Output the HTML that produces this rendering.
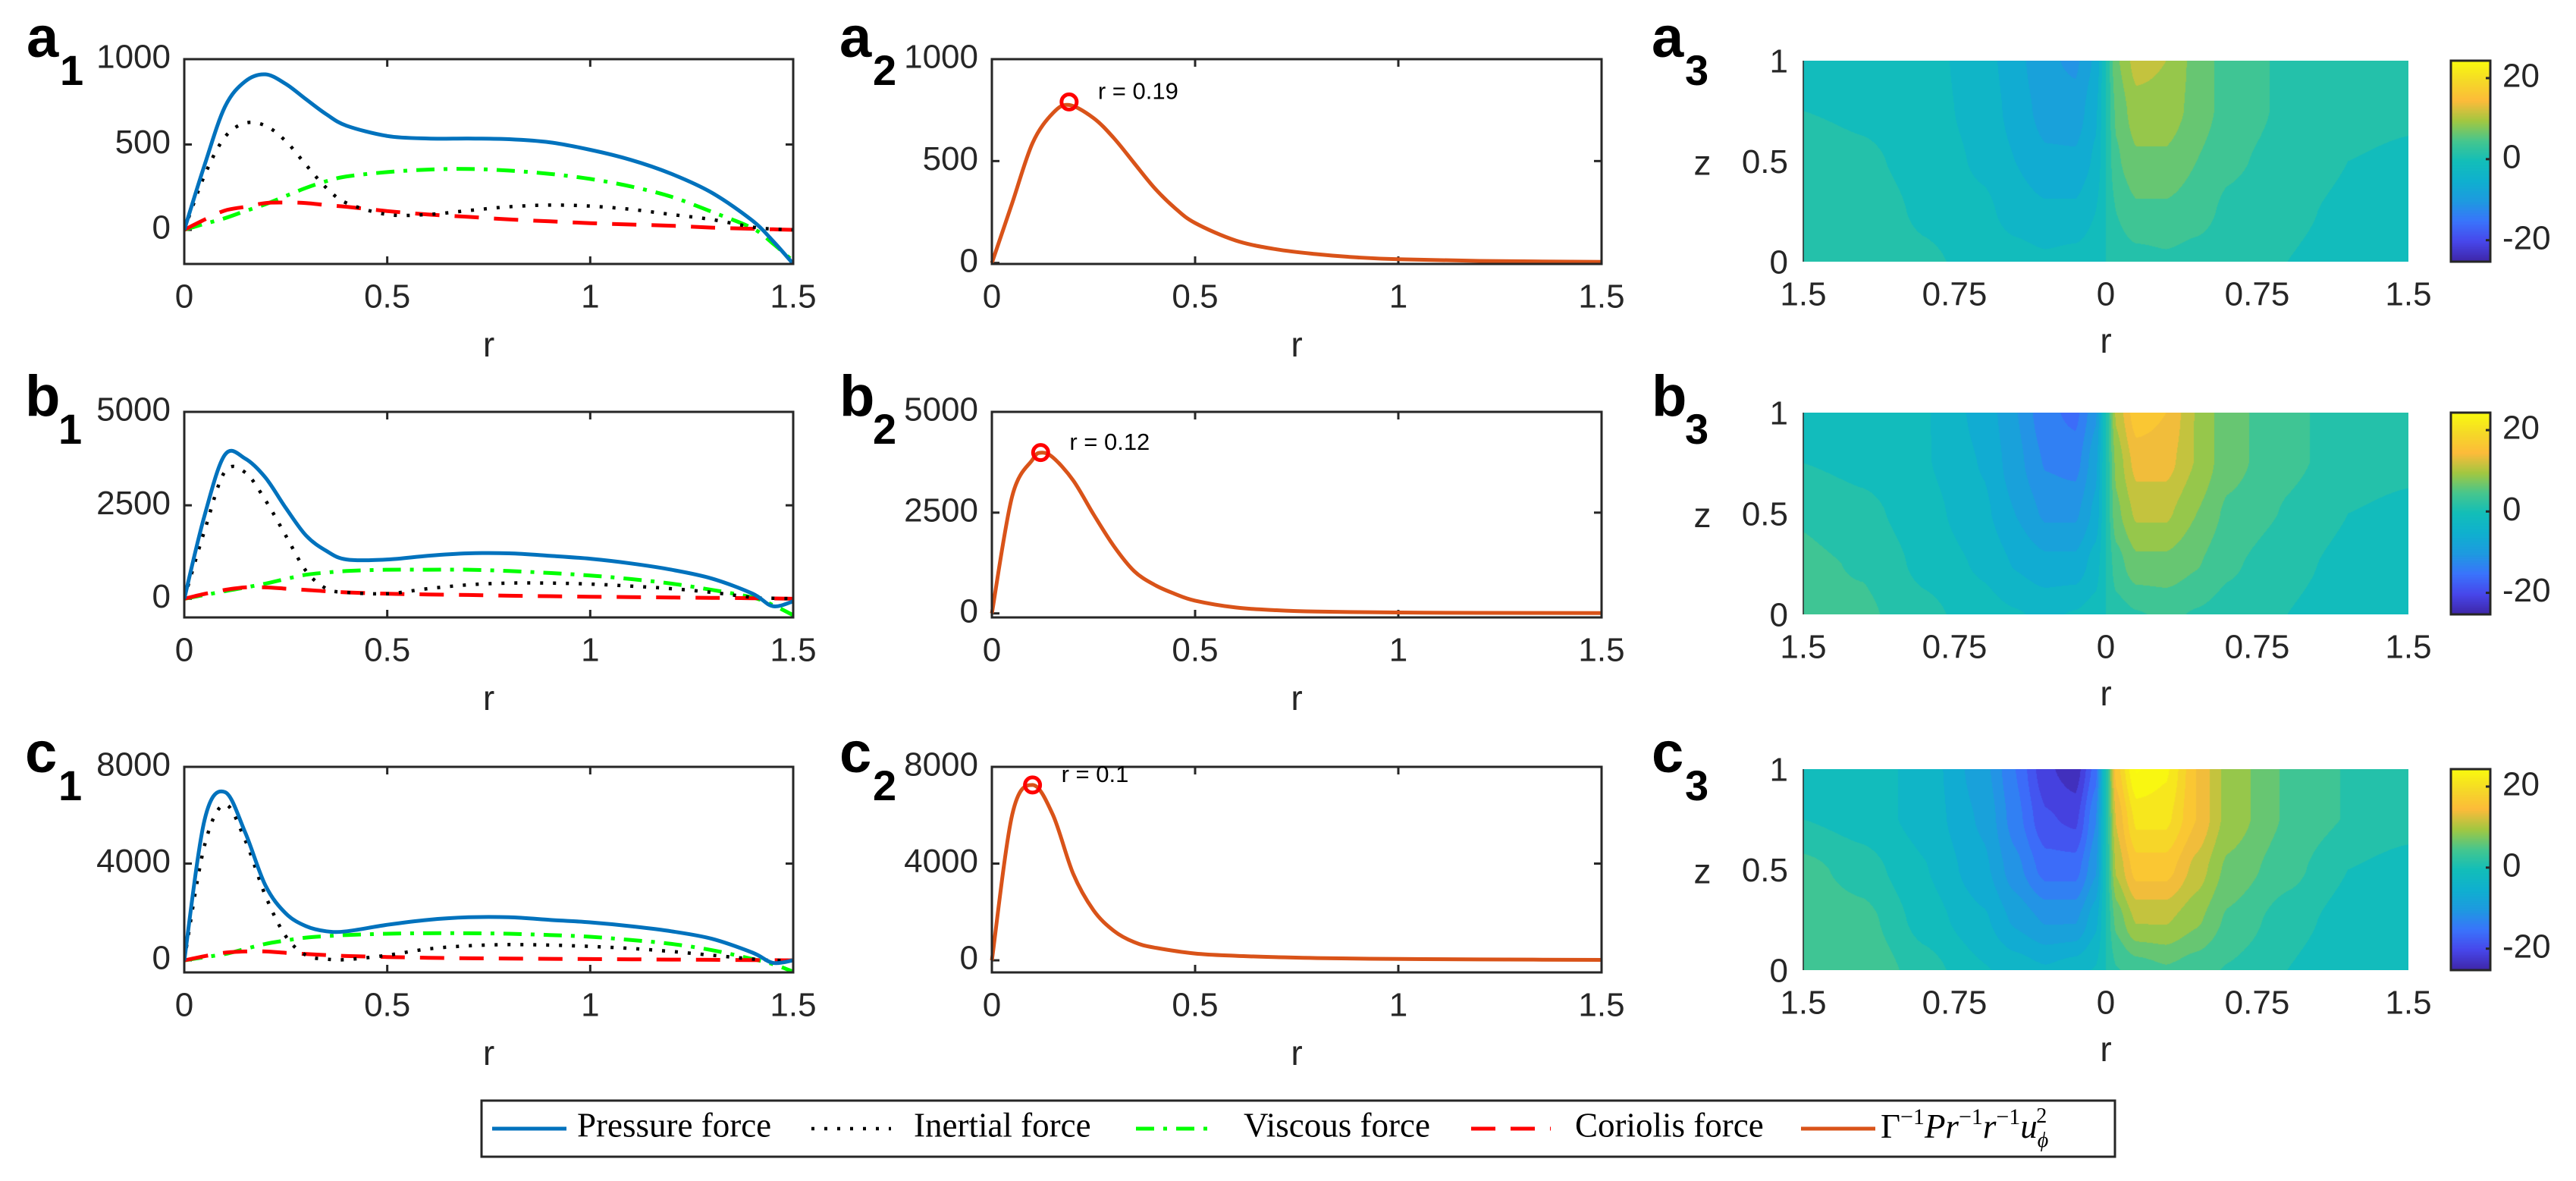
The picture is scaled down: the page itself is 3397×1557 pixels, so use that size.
<!DOCTYPE html>
<html><head><meta charset="utf-8">
<style>
html,body{margin:0;padding:0;background:#fff;}
#wrap{position:relative;width:3397px;height:1557px;overflow:hidden;background:#fff;}
canvas{position:absolute;}
svg{position:absolute;left:0;top:0;}
text{font-family:"Liberation Sans",sans-serif;fill:#262626;}
</style></head>
<body>
<div id="wrap">
<canvas id="h0"></canvas>
<canvas id="h1"></canvas>
<canvas id="h2"></canvas>
<canvas id="cb0"></canvas>
<canvas id="cb1"></canvas>
<canvas id="cb2"></canvas>
<svg id="svg" width="3397" height="1557" xmlns="http://www.w3.org/2000/svg"></svg>
</div>
<script>
// ---------- data ----------
const rForce = [0,0.05,0.1,0.15,0.2,0.25,0.3,0.35,0.4,0.5,0.6,0.7,0.8,0.9,1.0,1.1,1.2,1.3,1.4,1.45,1.5];
const a1Pressure = [0,380,720,870,911,855,765,677,610,550,535,535,531,513,469,410,328,217,53,-65,-199];
const a1Inertial = [0,320,543,625,610,520,380,246,157,90,90,113,135,145,139,120,90,60,16,5,0];
const a1Viscous  = [0,35,68,110,150,198,246,285,313,338,353,357,347,328,298,254,194,105,9,-80,-184];
const a1Coriolis = [0,60,113,135,157,160,157,145,135,110,90,76,61,50,39,31,24,13,6,3,0];
const b1Pressure = [0,2230,3850,3750,3240,2430,1690,1280,1050,1050,1150,1215,1215,1150,1070,946,777,540,135,-200,-70];
const b1Inertial = [0,1825,3400,3380,2635,1690,743,270,169,135,270,372,419,419,392,338,270,169,34,14,0];
const b1Viscous  = [0,100,203,300,405,530,642,700,743,777,777,777,743,690,622,527,405,236,34,-170,-440];
const b1Coriolis = [0,130,236,304,304,270,236,200,169,135,115,100,81,68,54,44,34,24,14,7,0];
const c1Pressure = [0,5810,6960,5290,3090,1940,1410,1200,1200,1470,1675,1780,1780,1675,1570,1410,1200,890,314,-105,0];
const c1Inertial = [0,4760,6440,4970,2670,995,210,52,31,210,470,600,650,630,575,490,366,210,52,0,0];
const c1Viscous  = [0,130,260,470,680,820,940,1000,1045,1100,1120,1120,1100,1045,975,840,680,420,52,-157,-470];
const c1Coriolis = [0,170,314,366,366,310,260,215,178,136,105,84,73,62,52,42,31,20,10,5,0];

const a2R = [0,0.05,0.1,0.15,0.19,0.25,0.3,0.35,0.4,0.45,0.5,0.6,0.7,0.8,0.9,1.0,1.2,1.5];
const a2Val = [0,294,588,735,775,711,613,490,368,270,196,110,67,43,27,18,10,5];
const b2R = [0,0.05,0.1,0.12,0.15,0.2,0.25,0.3,0.35,0.4,0.45,0.5,0.6,0.7,0.8,1.0,1.2,1.5];
const b2Val = [0,2910,3815,3985,3870,3300,2460,1670,1050,710,485,316,147,79,45,22,12,10];
const c2R = [0,0.05,0.1,0.15,0.2,0.25,0.3,0.35,0.4,0.5,0.6,0.7,0.8,1.0,1.2,1.5];
const c2Val = [0,6020,7250,6020,3580,2070,1220,750,527,282,188,132,94,56,35,19];
const peakR = [0.19,0.12,0.1];
const peakVal = [790,3990,7250];
const peakLabels = ["r = 0.19","r = 0.12","r = 0.1"];

const yTicksRow = [[0,500,1000],[0,2500,5000],[0,4000,8000]];
const xTicks = [0,0.5,1,1.5];
const xTickLabels = ["0","0.5","1","1.5"];
const heatXTicks = [-1.5,-0.75,0,0.75,1.5];
const heatXTickLabels = ["1.5","0.75","0","0.75","1.5"];
const heatZTicks = [0,0.5,1];
const heatZTickLabels = ["0","0.5","1"];
const cbTicks = [-20,0,20];
const cbTickLabels = ["-20","0","20"];

const heatR = [-1.5,-1.2,-0.9,-0.6,-0.45,-0.3,-0.15,-0.05,0,0.05,0.15,0.3,0.45,0.6,0.9,1.2,1.5];
const heatZ = [1,0.75,0.5,0.25,0];
const heatBase = [
 [0,-0.5,-1.5,-4,-6.5,-9.5,-10.5,-7,0,7,11,10,6.5,4,2,1,0.5],
 [0,-0.5,-1.5,-3.5,-6,-8.5,-9,-5.5,0,5.5,9,9,6.5,4,2,1,0.5],
 [1.5,0.5,-1,-3,-5,-7,-7,-4.5,0,4.5,7,7,5,3,1.5,0,-0.5],
 [2,1.5,-0.5,-2,-3.5,-4.5,-4.5,-2.5,0,2.5,4.5,4.5,3.5,2,0.5,-0.5,-1],
 [2,2,0.5,-1,-1.5,-2,-1.5,-1,0,1,1.5,2,1.5,1,0,-1,-1]
];
const heatAmp = [1,1.5,2.3];

// ---------- layout ----------
const colL={x0:243,x1:1046}, colM={x0:1308,x1:2112}, colH={x0:2378,x1:3176}, colCB={x0:3232,x1:3284};
const rows=[{y0:78,y1:348},{y0:543,y1:814},{y0:1011,y1:1282}];
const heatRows=[{y0:80,y1:345},{y0:544,y1:810},{y0:1014,y1:1279}];
const leftRange=[[-200,1000],[-500,5000],[-500,8000]];
const midRange=[[-5,1000],[-100,5000],[-500,8000]];
const clim=[-25.3,24.3];
const rowLetters=["a","b","c"];
const labelBase=[[75,112],[548,585],[1018,1055]];

const NS="http://www.w3.org/2000/svg";
const svg=document.getElementById('svg');
function mk(tag,attrs,parent){const e=document.createElementNS(NS,tag);for(const k in attrs)e.setAttribute(k,attrs[k]);(parent||svg).appendChild(e);return e;}
function lin(d0,d1,p0,p1){return v=>p0+(v-d0)/(d1-d0)*(p1-p0);}
function smoothPath(pts){
  let d="M"+pts[0][0].toFixed(1)+","+pts[0][1].toFixed(1);
  for(let i=0;i<pts.length-1;i++){
    const p0=pts[Math.max(0,i-1)],p1=pts[i],p2=pts[i+1],p3=pts[Math.min(pts.length-1,i+2)];
    const c1=[p1[0]+(p2[0]-p0[0])/6,p1[1]+(p2[1]-p0[1])/6];
    const c2=[p2[0]-(p3[0]-p1[0])/6,p2[1]-(p3[1]-p1[1])/6];
    d+=" C"+c1[0].toFixed(1)+","+c1[1].toFixed(1)+" "+c2[0].toFixed(1)+","+c2[1].toFixed(1)+" "+p2[0].toFixed(1)+","+p2[1].toFixed(1);
  }
  return d;
}
function axesBox(col,row,yr,yt,name,ri){
  const g=mk('g',{});
  
  
  const sx=lin(0,1.5,col.x0,col.x1), sy=lin(yr[0],yr[1],row.y1,row.y0);
  xTicks.forEach((t,i)=>{
    const x=sx(t);
    const l1=mk('line',{x1:x,x2:x,y1:row.y1,y2:row.y1-10,stroke:'#262626','stroke-width':3},g);
    
    
    mk('line',{x1:x,x2:x,y1:row.y0,y2:row.y0+10,stroke:'#262626','stroke-width':3},g);
    const tx=mk('text',{x:x,y:row.y1+46,'font-size':44,'text-anchor':'middle','dominant-baseline':'middle'},g);
    tx.textContent=xTickLabels[i];
    
    
  });
  yt.forEach(t=>{
    const y=sy(t);
    mk('line',{x1:col.x0,x2:col.x0+10,y1:y,y2:y,stroke:'#262626','stroke-width':3},g);
    mk('line',{x1:col.x1,x2:col.x1-10,y1:y,y2:y,stroke:'#262626','stroke-width':3},g);
    const tx=mk('text',{x:col.x0-18,y:y,'font-size':44,'text-anchor':'end','dominant-baseline':'middle'},g);
    tx.textContent=String(t);
    
    
  });
  const xl=mk('text',{x:(col.x0+col.x1)/2,y:row.y1+110,'font-size':46,'text-anchor':'middle','dominant-baseline':'middle'},g);
  xl.textContent='r';
  
  
  return {g,sx,sy};
}
function frame(col,row,g){
  const r=mk('rect',{x:col.x0,y:row.y0,width:col.x1-col.x0,height:row.y1-row.y0,fill:'none',stroke:'#262626','stroke-width':3},g);
  
  
}
function panelLabel(x,ri,sub){
  const t=mk('text',{x:x,y:labelBase[ri][0],'font-size':76,'font-weight':'bold',fill:'#000'});
  
  
  t.style.fill='#000';
  t.textContent=rowLetters[ri];
  const s=mk('text',{x:x+44,y:labelBase[ri][1],'font-size':56,'font-weight':'bold'});
  
  
  s.style.fill='#000';
  s.textContent=sub;
}
const defs=mk('defs',{});
function clipFor(id,col,row){const c=mk('clipPath',{id:id},defs);mk('rect',{x:col.x0,y:row.y0-4,width:col.x1-col.x0,height:row.y1-row.y0+8},c);}

const styles={
  pressure:{stroke:'#0072BD',dash:null,w:5},
  inertial:{stroke:'#000',dash:'4 13',w:4.5},
  viscous:{stroke:'#00FF00',dash:'24 12 5 12',w:5},
  coriolis:{stroke:'#FF0000',dash:'32 20',w:5}
};
const leftSeries=[
  {pressure:a1Pressure,inertial:a1Inertial,viscous:a1Viscous,coriolis:a1Coriolis},
  {pressure:b1Pressure,inertial:b1Inertial,viscous:b1Viscous,coriolis:b1Coriolis},
  {pressure:c1Pressure,inertial:c1Inertial,viscous:c1Viscous,coriolis:c1Coriolis}
];
const midR=[a2R,b2R,c2R], midV=[a2Val,b2Val,c2Val];

for(let ri=0;ri<3;ri++){
  const L=axesBox(colL,rows[ri],leftRange[ri],yTicksRow[ri],'force-axes-'+rowLetters[ri]+'1',ri);
  clipFor('cl'+ri,colL,rows[ri]);
  ['viscous','coriolis','inertial','pressure'].forEach(k=>{
    const vals=leftSeries[ri][k];
    const pts=rForce.map((r,i)=>[L.sx(r),L.sy(vals[i])]);
    const st=styles[k];
    const p=mk('path',{d:smoothPath(pts),fill:'none',stroke:st.stroke,'stroke-width':st.w,'clip-path':'url(#cl'+ri+')','stroke-linejoin':'round'},L.g);
    if(st.dash)p.setAttribute('stroke-dasharray',st.dash);
    
    
  });
  frame(colL,rows[ri],L.g);
  panelLabel(ri===0?35:33,ri,'1');
  const M=axesBox(colM,rows[ri],midRange[ri],yTicksRow[ri],'centrifugal-axes-'+rowLetters[ri]+'2',ri);
  const pts=midR[ri].map((r,i)=>[M.sx(r),M.sy(midV[ri][i])]);
  const p=mk('path',{d:smoothPath(pts),fill:'none',stroke:'#D95319','stroke-width':5,'stroke-linejoin':'round'},M.g);
  
  
  frame(colM,rows[ri],M.g);
  const cx=M.sx(peakR[ri]), cy=M.sy(peakVal[ri]);
  const c=mk('circle',{cx:cx,cy:cy,r:10,fill:'none',stroke:'#FF0000','stroke-width':5},M.g);
  
  
  const at=mk('text',{x:cx+38,y:cy-12,'font-size':31,'dominant-baseline':'middle'},M.g);
  at.style.fill='#000';
  at.textContent=peakLabels[ri];
  
  
  panelLabel(1107,ri,'2');
  const hr=heatRows[ri];
  const hg=mk('g',{});
  
  
  const hx=lin(-1.5,1.5,colH.x0,colH.x1), hz=lin(0,1,hr.y1,hr.y0);
  heatXTicks.forEach((t,i)=>{
    const tx=mk('text',{x:hx(t),y:hr.y1+46,'font-size':44,'text-anchor':'middle','dominant-baseline':'middle'},hg);
    tx.textContent=heatXTickLabels[i];
    
    
  });
  heatZTicks.forEach((t,i)=>{
    const tx=mk('text',{x:colH.x0-20,y:hz(t)+4,'font-size':44,'text-anchor':'end','dominant-baseline':'middle'},hg);
    tx.textContent=heatZTickLabels[i];
    
    
  });
  mk('line',{x1:colH.x0,x2:colH.x0,y1:hr.y0,y2:hr.y1,stroke:'#262626','stroke-width':1.5},hg);
  const zl=mk('text',{x:2245,y:(hr.y0+hr.y1)/2+6,'font-size':46,'text-anchor':'middle','dominant-baseline':'middle'},hg);
  zl.textContent='z';
  
  
  const rl=mk('text',{x:(colH.x0+colH.x1)/2,y:hr.y1+108,'font-size':46,'text-anchor':'middle','dominant-baseline':'middle'},hg);
  rl.textContent='r';
  
  
  const cs=lin(clim[0],clim[1],hr.y1,hr.y0);
  const cbf=mk('rect',{x:colCB.x0,y:hr.y0,width:colCB.x1-colCB.x0,height:hr.y1-hr.y0,fill:'none',stroke:'#262626','stroke-width':3},hg);
  
  
  cbTicks.forEach((t,i)=>{
    const y=cs(t);
    mk('line',{x1:colCB.x1,x2:colCB.x1-6,y1:y,y2:y,stroke:'#262626','stroke-width':3},hg);
    const tx=mk('text',{x:colCB.x1+16,y:y,'font-size':44,'dominant-baseline':'middle'},hg);
    tx.textContent=cbTickLabels[i];
    
    
  });
  panelLabel(2178,ri,'3');
}

// ---------- parula ----------
const parStops=[[0,[62,38,168]],[0.1,[71,71,235]],[0.2,[58,116,252]],[0.3,[30,154,224]],[0.4,[15,176,207]],[0.5,[18,190,185]],[0.6,[70,198,142]],[0.7,[162,199,65]],[0.8,[253,187,58]],[0.9,[245,218,39]],[1,[249,251,14]]];
function parula(t){
  t=Math.max(0,Math.min(1,t));
  for(let i=0;i<parStops.length-1;i++){
    const a=parStops[i],b=parStops[i+1];
    if(t<=b[0]){const f=(t-a[0])/(b[0]-a[0]);return a[1].map((v,k)=>Math.round(v+(b[1][k]-v)*f));}
  }
  return parStops[parStops.length-1][1];
}
function interp1(arr,v){
  for(let i=0;i<arr.length-1;i++){
    const a=arr[i],b=arr[i+1];
    if((v>=Math.min(a,b))&&(v<=Math.max(a,b))){let f=(v-a)/(b-a);f=f*f*(3-2*f)*0.5+f*0.5;return [i,f];}
  }
  return [arr.length-2,1];
}
for(let ri=0;ri<3;ri++){
  const hr=heatRows[ri];
  const W=colH.x1-colH.x0, H=hr.y1-hr.y0;
  const cv=document.getElementById('h'+ri);
  cv.width=W;cv.height=H;cv.style.left=colH.x0+'px';cv.style.top=hr.y0+'px';
  const ctx=cv.getContext('2d');
  const img=ctx.createImageData(W,H);
  const colIdx=[];
  for(let x=0;x<W;x++)colIdx.push(interp1(heatR,-1.5+3*(x+0.5)/W));
  for(let y=0;y<H;y++){
    const z=1-(y+0.5)/H;
    const [j,fz]=interp1(heatZ,z);
    for(let x=0;x<W;x++){
      const [i,fx]=colIdx[x];
      const v00=heatBase[j][i],v01=heatBase[j][i+1],v10=heatBase[j+1][i],v11=heatBase[j+1][i+1];
      let v=(v00*(1-fx)+v01*fx)*(1-fz)+(v10*(1-fx)+v11*fx)*fz;
      v*=heatAmp[ri];
      const q=(Math.floor(v/2.5)+0.5)*2.5;
      const c=parula((q-clim[0])/(clim[1]-clim[0]));
      const o=(y*W+x)*4;
      img.data[o]=c[0];img.data[o+1]=c[1];img.data[o+2]=c[2];img.data[o+3]=255;
    }
  }
  ctx.putImageData(img,0,0);
  const cb=document.getElementById('cb'+ri);
  const cw=colCB.x1-colCB.x0;
  cb.width=cw;cb.height=H;cb.style.left=colCB.x0+'px';cb.style.top=hr.y0+'px';
  const cc=cb.getContext('2d');
  for(let y=0;y<H;y++){const c=parula(1-(y+0.5)/H);cc.fillStyle='rgb('+c.join(',')+')';cc.fillRect(0,y,cw,1);}
}

// ---------- legend ----------
const lg=mk('g',{});


const lb=mk('rect',{x:635,y:1451,width:2154,height:74,fill:'#fff',stroke:'#262626','stroke-width':3},lg);


const legendItems=[
  {x0:649,x1:747,tx:761,label:'Pressure force',st:styles.pressure},
  {x0:1070,x1:1175,tx:1205,label:'Inertial force',st:styles.inertial},
  {x0:1498,x1:1603,tx:1640,label:'Viscous force',st:styles.viscous},
  {x0:1940,x1:2045,tx:2077,label:'Coriolis force',st:styles.coriolis}
];
legendItems.forEach(it=>{
  const e=mk('g',{},lg);
  
  
  const l=mk('line',{x1:it.x0,x2:it.x1,y1:1488,y2:1488,stroke:it.st.stroke,'stroke-width':it.st.w},e);
  if(it.st.dash)l.setAttribute('stroke-dasharray',it.st.dash);
  const t=mk('text',{x:it.tx,y:1488,'font-size':45,'dominant-baseline':'middle'},e);
  t.style.fontFamily='"Liberation Serif",serif';t.style.fill='#000';
  t.textContent=it.label;
});
const e5=mk('g',{},lg);


mk('line',{x1:2375,x2:2473,y1:1488,y2:1488,stroke:'#D95319','stroke-width':5},e5);
const mt=mk('text',{x:2480,y:1500,'font-size':45},e5);
mt.style.fontFamily='"Liberation Serif",serif';mt.style.fill='#000';
mt.innerHTML='<tspan>Γ</tspan><tspan font-size="30" dy="-18">−1</tspan><tspan font-style="italic" dy="18">Pr</tspan><tspan font-size="30" dy="-18">−1</tspan><tspan font-style="italic" dy="18">r</tspan><tspan font-size="30" dy="-18">−1</tspan><tspan font-style="italic" dy="18">u</tspan><tspan font-size="28" font-style="italic" dy="12">ϕ</tspan><tspan font-size="28" dx="-16" dy="-32">2</tspan>';
</script>
</body></html>
